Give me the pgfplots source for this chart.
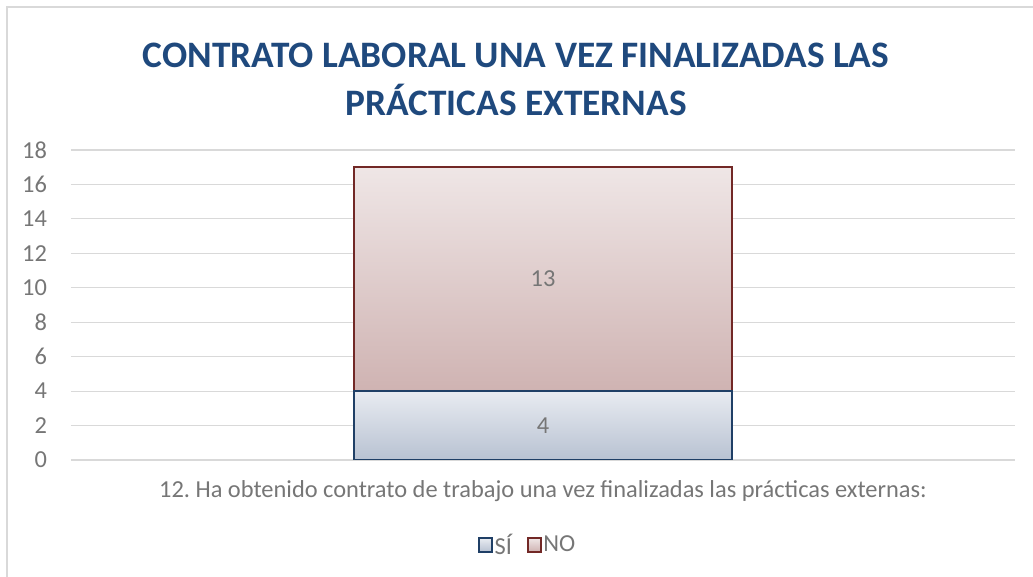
\documentclass[border=0pt]{standalone}
\usepackage{fontspec}
\setmainfont{Carlito}
\usepackage{pgfplots}
\pgfplotsset{compat=1.18}

\definecolor{titleblue}{HTML}{1F497D}
\definecolor{txtgray}{HTML}{767676}
\definecolor{gridgray}{HTML}{D9D9D9}
\definecolor{frame}{HTML}{D9D9D9}
\definecolor{siedge}{HTML}{1F3F66}
\definecolor{sitop}{HTML}{E8EBF1}
\definecolor{sibot}{HTML}{B8C2D2}
\definecolor{noedge}{HTML}{722826}
\definecolor{notop}{HTML}{EFE6E6}
\definecolor{nobot}{HTML}{CFB3B2}

% 1 px of the reference = 0.75pt; origin at the top-left corner
\begin{document}
\frenchspacing
\begin{tikzpicture}
\path[use as bounding box] (0pt,0pt) rectangle (774.75pt,-432.75pt);
\draw[frame, line width=1.5pt] (4.9pt,-4.9pt) rectangle (780pt,-442pt);

\begin{axis}[
    at={(53.25pt,-345pt)}, anchor=south west,
    scale only axis,
    width=708pt, height=232.5pt,
    ybar stacked,
    bar width=0.4,
    xmin=-0.5, xmax=0.5,
    ymin=0, ymax=18,
    ytick={0,2,...,18},
    xtick=\empty,
    axis line style={draw=none},
    major tick length=0pt,
    ymajorgrids,
    grid style={gridgray, line width=0.9pt},
    tick label style={font=\fontsize{18.3}{22}\selectfont, text=txtgray},
    yticklabel style={xshift=-14.5pt},
    /pgf/number format/assume math mode=true,
    xlabel={12. Ha obtenido contrato de trabajo una vez finalizadas las prácticas externas:},
    xlabel style={at={(0.5,-0.1)}, anchor=center, font=\fontsize{18.3}{22}\selectfont, text=txtgray},
    legend columns=2,
    legend style={at={(0.484,-0.274)}, anchor=center, draw=none, fill=none,
        font=\fontsize{18.3}{22}\selectfont, text=txtgray, inner sep=0pt,
        /tikz/every odd column/.append style={column sep=-1pt},
        /tikz/every even column/.append style={column sep=9pt}},
    legend image code/.code={\draw[#1, line width=1.5pt] (0pt,-5pt) rectangle (10pt,5pt);},
    nodes near coords,
    every node near coord/.append style={font=\fontsize{18.3}{22}\selectfont, text=txtgray, anchor=center},
]
\addplot[draw=siedge, line width=1.1pt, top color=sitop, bottom color=sibot]
    coordinates {(0,4)};
\addplot[draw=noedge, line width=1.1pt, top color=notop, bottom color=nobot]
    coordinates {(0,13)};
\legend{SÍ,NO}
\end{axis}

\node[font=\bfseries\fontsize{28}{33}\selectfont, text=titleblue] at (387pt,-41.25pt) {CONTRATO LABORAL UNA VEZ FINALIZADAS LAS};
\node[font=\bfseries\fontsize{28}{33}\selectfont, text=titleblue] at (387pt,-75pt) {PRÁCTICAS EXTERNAS};
\end{tikzpicture}
\end{document}
